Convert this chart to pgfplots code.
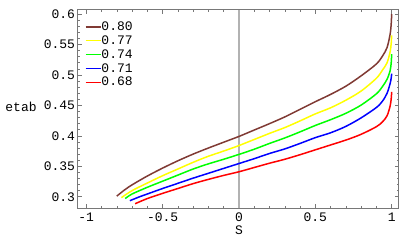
\documentclass[border=0pt]{standalone}
\usepackage{fontspec}
\setmonofont{Liberation Mono}
\setmainfont{Liberation Mono}
\usepackage{pgfplots}
\pgfplotsset{compat=1.18}
\definecolor{cbrown}{RGB}{128,58,52}
\definecolor{cyellow}{RGB}{255,255,0}
\definecolor{cgreen}{RGB}{0,255,0}
\definecolor{cblue}{RGB}{0,0,255}
\definecolor{cred}{RGB}{255,0,0}
\definecolor{framec}{RGB}{120,120,120}
\newcommand{\mfont}{\ttfamily\fontsize{13}{14}\selectfont}
\begin{document}
\begin{tikzpicture}
\begin{axis}[
  scale only axis, width=321pt, height=198.8pt,
  xmin=-1.056, xmax=1.046, ymin=0.281, ymax=0.6074,
  axis line style={framec, line width=0.6pt},
  tick style={framec, line width=0.5pt},
  tick align=inside, tick pos=both,
  major tick length=4pt, minor tick length=2pt,
  xtick={-1,-0.5,0,0.5,1},
  xticklabels={-1,-0.5,0,0.5,1},
  ytick={0.3,0.35,0.4,0.45,0.5,0.55,0.6},
  yticklabels={0.3,0.35,0.4,0.45,0.5,0.55,0.6},
  minor x tick num=4, minor y tick num=4,
  xticklabel style={font=\mfont, inner sep=0pt, anchor=north, yshift=-4.5pt},
  yticklabel style={font=\mfont, inner sep=0pt, anchor=east, xshift=-2.5pt},
  extra x ticks={0}, extra x tick labels={},
  extra x tick style={grid=major, major tick length=0pt, major grid style={black!30, line width=1.3pt}},
  xlabel={S}, ylabel={etab},
  every axis x label/.style={at={(axis description cs:0.5025,-0.1127)}, anchor=center, font=\mfont, inner sep=0pt},
  every axis y label/.style={at={(axis description cs:-0.1766,0.51)}, anchor=center, font=\mfont, inner sep=0pt},
  legend style={at={(axis description cs:0.0227,0.9386)}, anchor=north west, draw=none, fill=none,
    inner sep=0pt, outer sep=0pt, row sep=3.7pt, column sep=0pt,
    nodes={inner sep=0pt, font=\mfont}},
  legend cell align=left,
  legend image code/.code={\draw[#1, line width=1.5pt] (0pt,0pt) -- (15pt,0pt);},
  every axis plot/.append style={line width=1.5pt, smooth, tension=0.5},
]
\addplot[cbrown] coordinates {
(-0.80,0.301) (-0.75,0.311) (-0.70,0.3195) (-0.60,0.334) (-0.50,0.347) (-0.40,0.359)
(-0.30,0.370) (-0.20,0.380) (-0.10,0.3895) (0.00,0.399) (0.10,0.4095) (0.20,0.420)
(0.30,0.431) (0.40,0.4435) (0.50,0.456) (0.60,0.468) (0.70,0.4815) (0.80,0.4985)
(0.90,0.518) (0.94,0.531) (0.97,0.545) (0.99,0.567) (0.997,0.584) (1.00,0.600)};
\addlegendentry{0.80}
\addplot[cyellow] coordinates {
(-0.77,0.2985) (-0.70,0.310) (-0.60,0.3225) (-0.50,0.3345) (-0.40,0.3455) (-0.30,0.3565)
(-0.20,0.3665) (-0.10,0.375) (0.00,0.384) (0.10,0.394) (0.20,0.404) (0.30,0.4135)
(0.40,0.4245) (0.50,0.436) (0.60,0.446) (0.70,0.4585) (0.80,0.4735)
(0.90,0.4945) (0.94,0.508) (0.97,0.520) (0.99,0.538) (0.997,0.552) (1.00,0.565)};
\addlegendentry{0.77}
\addplot[cgreen] coordinates {
(-0.745,0.297) (-0.70,0.3045) (-0.60,0.3155) (-0.50,0.3255) (-0.40,0.3355) (-0.30,0.3455)
(-0.20,0.354) (-0.10,0.3615) (0.00,0.3695) (0.10,0.378) (0.20,0.3875) (0.30,0.3965)
(0.40,0.4065) (0.50,0.417) (0.60,0.4265) (0.70,0.437) (0.80,0.4505)
(0.90,0.469) (0.94,0.481) (0.97,0.493) (0.99,0.507) (0.997,0.520) (1.00,0.534)};
\addlegendentry{0.74}
\addplot[cblue] coordinates {
(-0.714,0.2935) (-0.65,0.300) (-0.60,0.3045) (-0.50,0.3135) (-0.40,0.322) (-0.30,0.3305)
(-0.20,0.3385) (-0.10,0.3465) (0.00,0.3545) (0.10,0.3625) (0.20,0.371) (0.30,0.3785)
(0.40,0.3875) (0.50,0.397) (0.60,0.405) (0.70,0.4155) (0.80,0.4295)
(0.90,0.4465) (0.94,0.457) (0.97,0.470) (0.99,0.486) (0.997,0.495) (1.00,0.502)};
\addlegendentry{0.71}
\addplot[cred] coordinates {
(-0.68,0.2885) (-0.60,0.297) (-0.50,0.3055) (-0.40,0.3135) (-0.30,0.3215) (-0.20,0.3285)
(-0.10,0.335) (0.00,0.341) (0.10,0.348) (0.20,0.355) (0.30,0.3615) (0.40,0.369)
(0.50,0.377) (0.60,0.385) (0.70,0.393) (0.80,0.4025) (0.90,0.415)
(0.94,0.423) (0.97,0.433) (0.99,0.449) (0.997,0.461) (1.00,0.472)};
\addlegendentry{0.68}
\end{axis}
\pgfresetboundingbox
\path[use as bounding box] (-77.7pt,-38.7pt) rectangle (322.3pt,208.3pt);
\end{tikzpicture}
\end{document}
